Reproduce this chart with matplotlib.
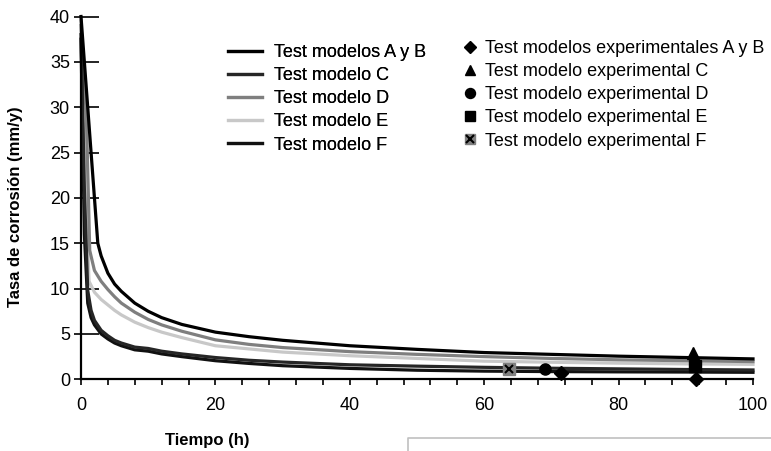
import matplotlib.pyplot as plt
from matplotlib.lines import Line2D
from matplotlib.legend_handler import HandlerTuple

plt.rcParams['font.family'] = ['Liberation Sans', 'DejaVu Sans']

# model curves (time in h, corrosion rate in mm/y)
t_ab = [0, 2.5, 3, 4, 5, 6, 8, 10, 12, 15, 20, 25, 30, 40, 50, 60, 70, 80, 90, 100]
y_ab = [40, 15, 13.6, 11.7, 10.5, 9.7, 8.4, 7.5, 6.8, 6.05, 5.2, 4.7, 4.3, 3.7, 3.3, 2.95, 2.75, 2.55, 2.4, 2.25]

t_c = [0, 0.5, 1, 1.5, 2, 3, 4, 5, 6, 8, 10, 12, 15, 20, 25, 30, 40, 50, 60, 70, 80, 90, 100]
y_c = [38, 21, 9.8, 7.6, 6.5, 5.4, 4.8, 4.3, 4.0, 3.55, 3.4, 3.1, 2.8, 2.4, 2.1, 1.9, 1.6, 1.45, 1.32, 1.22, 1.15, 1.08, 1.03]

t_d = [0, 0.8, 1.3, 2, 3, 4, 5, 6, 8, 10, 12, 15, 20, 25, 30, 40, 50, 60, 70, 80, 90, 100]
y_d = [39, 29, 14.2, 12.0, 10.8, 9.9, 9.1, 8.4, 7.4, 6.6, 6.0, 5.3, 4.35, 3.85, 3.5, 3.05, 2.75, 2.5, 2.3, 2.15, 2.05, 1.95]

t_e = [0, 0.5, 1, 1.2, 2, 3, 4, 5, 6, 8, 10, 12, 15, 20, 25, 30, 40, 50, 60, 70, 80, 90, 100]
y_e = [39.5, 27, 14.5, 10.8, 9.6, 8.8, 8.2, 7.6, 7.1, 6.3, 5.7, 5.2, 4.6, 3.7, 3.35, 3.0, 2.6, 2.3, 2.0, 1.88, 1.78, 1.7, 1.65]

t_f = [0, 0.5, 1, 1.5, 2, 3, 4, 5, 6, 8, 10, 12, 15, 20, 25, 30, 40, 50, 60, 70, 80, 90, 100]
y_f = [37.5, 16, 8.4, 6.8, 6.0, 5.0, 4.45, 4.0, 3.7, 3.25, 3.1, 2.8, 2.5, 2.05, 1.75, 1.5, 1.2, 1.0, 0.9, 0.85, 0.82, 0.8, 0.77]

# experimental points
exp_ab_t = [71.5, 91.5]
exp_ab_y = [0.73, 0.0]
exp_c_t, exp_c_y = [91.1], [2.87]
exp_d_t, exp_d_y = [69.0], [1.13]
exp_e_t, exp_e_y = [91.4], [1.47]
exp_f_t, exp_f_y = [63.7], [1.13]

W, H = 771, 451
fig = plt.figure(figsize=(W / 100, H / 100), dpi=100)
ax = fig.add_axes([81 / W, 1 - 379.3 / H, 672 / W, 362.8 / H])

lw = 2.3
l_e, = ax.plot(t_e, y_e, color='#c8c8c8', lw=lw, clip_on=False)
l_d, = ax.plot(t_d, y_d, color='#7f7f7f', lw=lw, clip_on=False)
l_f, = ax.plot(t_f, y_f, color='#111111', lw=lw, clip_on=False)
l_c, = ax.plot(t_c, y_c, color='#262626', lw=lw, clip_on=False)
l_ab, = ax.plot(t_ab, y_ab, color='#000000', lw=lw, clip_on=False)

ms = 8
m_ab, = ax.plot(exp_ab_t, exp_ab_y, 'D', color='black', ms=7, ls='none', clip_on=False, zorder=5)
m_c, = ax.plot(exp_c_t, exp_c_y, '^', color='black', ms=ms, ls='none', clip_on=False, zorder=5)
m_d, = ax.plot(exp_d_t, exp_d_y, 'o', color='black', ms=ms, ls='none', clip_on=False, zorder=5)
m_e, = ax.plot(exp_e_t, exp_e_y, 's', color='black', ms=ms, ls='none', clip_on=False, zorder=5)
m_f1, = ax.plot(exp_f_t, exp_f_y, 's', color='#808080', ms=ms, ls='none', clip_on=False, zorder=5)
m_f2, = ax.plot(exp_f_t, exp_f_y, 'x', color='black', ms=6, mew=1.5, ls='none', clip_on=False, zorder=6)

ax.set_xlim(0, 100)
ax.set_ylim(0, 40)
ax.set_xticks(range(0, 101, 20))
ax.set_xticks(range(0, 101, 4), minor=True)
ax.set_yticks(range(0, 41, 5))

for s in ['top', 'right']:
    ax.spines[s].set_visible(False)
for s in ['left', 'bottom']:
    ax.spines[s].set_linewidth(1.6)

ax.tick_params(axis='x', which='both', direction='out', length=4.5, width=1.2, labelsize=13, pad=8)
ax.tick_params(axis='y', direction='out', length=5, width=1.2, labelsize=13, pad=3)
# inner part of the y ticks is longer than the outer one
sec = ax.secondary_yaxis('left')
sec.set_yticks(range(0, 41, 5))
sec.tick_params(direction='in', length=13, width=1.2, labelleft=False)
sec.spines['left'].set_visible(False)

fig.text(207 / W, 1 - 440 / H, 'Tiempo (h)', ha='center', va='center', fontsize=12, fontweight='bold')
fig.text(16 / W, 1 - 207 / H, 'Tasa de corrosión (mm/y)', ha='center', va='center',
         rotation=90, fontsize=12, fontweight='bold')

leg1 = fig.legend([l_ab, l_c, l_d, l_e, l_f],
                  ['Test modelos A y B', 'Test modelo C', 'Test modelo D', 'Test modelo E', 'Test modelo F'],
                  loc='upper left', bbox_to_anchor=(228 / W, 1 - 44 / H), frameon=False, fontsize=13,
                  handlelength=1.9, handletextpad=0.65, labelspacing=0.34, borderpad=0, borderaxespad=0)
fig.legend([m_ab, m_c, m_d, m_e, (m_f1, m_f2)],
           ['Test modelos experimentales A y B', 'Test modelo experimental C', 'Test modelo experimental D',
            'Test modelo experimental E', 'Test modelo experimental F'],
           loc='upper left', bbox_to_anchor=(463 / W, 1 - 40 / H), frameon=False, fontsize=13,
           handlelength=0.8, handletextpad=0.4, labelspacing=0.34, borderpad=0, borderaxespad=0,
           handler_map={tuple: HandlerTuple(ndivide=None, pad=-0.8)}, markerscale=0.9)
fig.add_artist(leg1)

# grey box corner at the bottom right
fig.add_artist(Line2D([408 / W, 408 / W, 1], [0, 1 - 438 / H, 1 - 438 / H],
                      transform=fig.transFigure, color='#c0c0c0', lw=1.2))

fig.savefig('out.png', dpi=100)
